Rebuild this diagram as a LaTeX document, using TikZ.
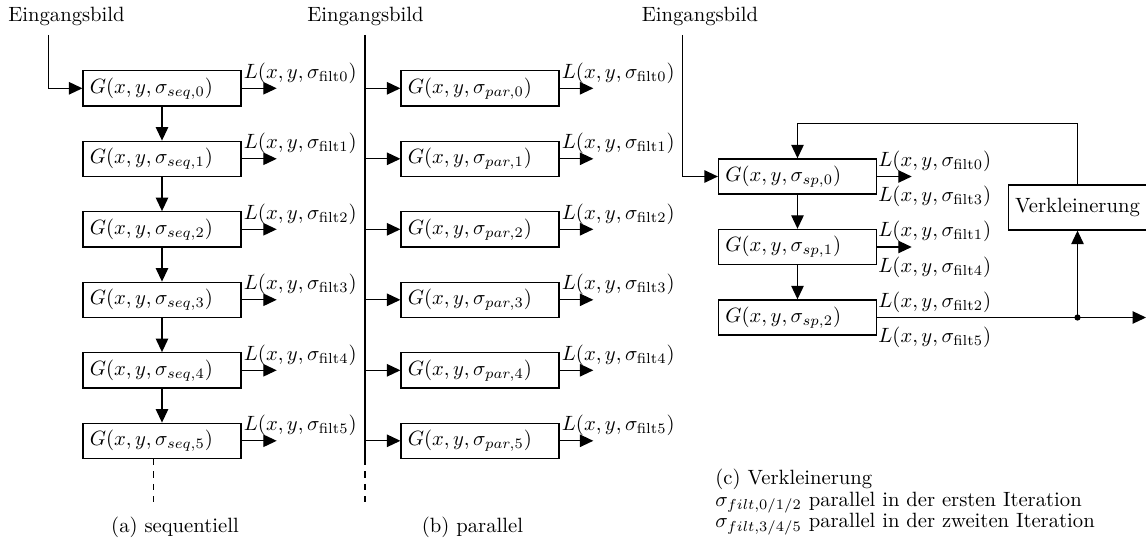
\documentclass[tikz,border=0pt]{standalone}
\usetikzlibrary{arrows.meta}
\begin{document}
\begin{tikzpicture}[x=0.484pt,y=-0.484pt,
  gbox/.style={draw, line width=0.6pt, text width=69.8pt, align=left, minimum height=17pt, inner sep=3.33pt},
  vbox/.style={draw, line width=0.6pt, minimum height=21.8pt, inner sep=3.33pt},
  arr/.style={-{Triangle[length=6.5pt,width=6pt]}, line width=0.6pt},
  ln/.style={line width=0.6pt},
  lab/.style={anchor=base west, inner sep=0pt},
  ttl/.style={anchor=base, inner sep=0pt}]
\useasboundingbox (0,0) rectangle (1146,545);

% ---------- (a) sequentiell ----------
\node[ttl] (ina) at (66.5,22) {Eingangsbild};
\coordinate (ta) at (48.3,35);
\foreach \k in {0,...,5}{
  \node[gbox] (s\k) at (162,88.3+70.5*\k) {$G(x,y,\sigma_{seq,\k})$};
  \coordinate (so\k) at (276.7,88.3+70.5*\k);
  \draw[arr] (s\k.east) -- (so\k);
  \node[lab] (ls\k) at (243.5,78.3+70.5*\k) {$L(x,y,\sigma_{\mathrm{filt}\k})$};
}
\draw[arr] (ta) |- (s0.west);
\foreach \k [evaluate=\k as \n using int(\k+1)] in {0,...,4}{
  \draw[arr] (s\k.south) -- (s\n.north);
}
\coordinate (da) at (153.7,507);
\draw[ln,dashed] (da |- s5.south) -- (da);
\node[ttl] (capa) at (175,532) {(a) sequentiell};

% ---------- (b) parallel ----------
\node[ttl] (inb) at (365.5,22) {Eingangsbild};
\coordinate (tb) at (365,35);
\coordinate (db) at (365,507);
\foreach \k in {0,...,5}{
  \node[gbox] (p\k) at (480,88.3+70.5*\k) {$G(x,y,\sigma_{par,\k})$};
  \coordinate (po\k) at (593.3,88.3+70.5*\k);
  \draw[arr] (p\k.east) -- (po\k);
  \draw[arr] (tb |- p\k.west) -- (p\k.west);
  \node[lab] (lp\k) at (561.5,78.3+70.5*\k) {$L(x,y,\sigma_{\mathrm{filt}\k})$};
}
\draw[ln] (tb) -- (tb |- p5.south);
\draw[ln,dashed] (tb |- p5.south) -- (db);
\node[ttl] (capb) at (472.5,532) {(b) parallel};

% ---------- (c) Verkleinerung ----------
\node[ttl] (inc) at (700,22) {Eingangsbild};
\coordinate (tc) at (682.5,35);
\foreach \k in {0,1,2}{
  \node[gbox] (c\k) at (797.5,176.5+70.5*\k) {$G(x,y,\sigma_{sp,\k})$};
}
\draw[arr] (tc) |- (c0.west);
\draw[arr] (c0.south) -- (c1.north);
\draw[arr] (c1.south) -- (c2.north);
\coordinate (co0) at (911.7,176.5);
\coordinate (co1) at (911.7,247);
\draw[arr] (c0.east) -- (co0);
\draw[arr] (c1.east) -- (co1);
\node[lab] (lc0) at (878,166) {$L(x,y,\sigma_{\mathrm{filt0}})$};
\node[lab] (lc3) at (878,201.5) {$L(x,y,\sigma_{\mathrm{filt3}})$};
\node[lab] (lc1) at (878,236.5) {$L(x,y,\sigma_{\mathrm{filt1}})$};
\node[lab] (lc4) at (878,272) {$L(x,y,\sigma_{\mathrm{filt4}})$};
\node[lab] (lc2) at (878,307) {$L(x,y,\sigma_{\mathrm{filt2}})$};
\node[lab] (lc5) at (878,342.5) {$L(x,y,\sigma_{\mathrm{filt5}})$};
\node[vbox] (vk) at (1077.5,207.5) {Verkleinerung};
\coordinate (dot) at (1077.5,317.5);
\coordinate (out) at (1146,317.5);
\coordinate (fb) at (1077.5,123.3);
\draw[arr] (c2.east) -- (out);
\fill (dot) circle (1.5pt);
\draw[arr] (dot) -- (vk.south);
\draw[arr] (vk.north) -- (fb) -| (c0.north);

\node[lab] (capc) at (715,484.5) {(c) Verkleinerung};
\node[lab] (nc1) at (715,506) {$\sigma_{filt,0/1/2}$ parallel in der ersten Iteration};
\node[lab] (nc2) at (715,527.5) {$\sigma_{filt,3/4/5}$ parallel in der zweiten Iteration};
\end{tikzpicture}
\end{document}
